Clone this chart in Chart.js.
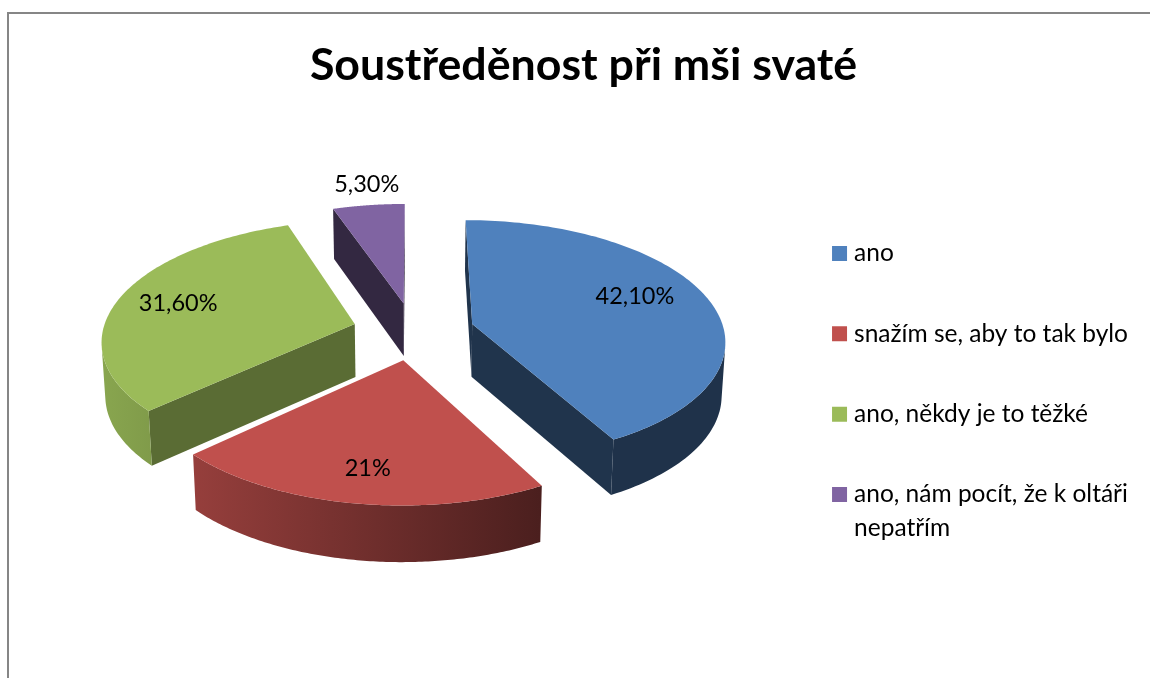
<!DOCTYPE html>
<html lang="cs">
<head>
    <meta charset="UTF-8">
    <title>Soustředěnost při mši svaté</title>
    <script src="https://cdn.jsdelivr.net/npm/chart.js"></script>
    <style>
        body { margin: 0; background: #fff; }
        #frame { position: absolute; left: 7px; top: 12px; right: 0; bottom: 0; border-top: 2px solid #868686; border-left: 2px solid #868686; }
        #myChart { position: absolute; left: 0; top: 0; }
    </style>
</head>
<body>
    <div id="frame"></div>
    <canvas id="myChart" width="1150" height="678"></canvas>

    <script>
        const titleText = 'Soustředěnost při mši svaté';
        const categories = ['ano', 'snažím se, aby to tak bylo', 'ano, někdy je to těžké', ['ano, nám pocít, že k oltáři', 'nepatřím']];
        const percentValues = [42.1, 21, 31.6, 5.3];
        const valueLabels = ['42,10%', '21%', '31,60%', '5,30%'];

        const sliceColors = ['#4F81BD', '#C0504D', '#9BBB59', '#8064A2'];
        const edgeShades = [0.4, 0.45, 0.58, 0.4];       // cut faces of each slice
        const labelRadius = [0.72, 0.78, 0.75, 1.24];    // label distance, share of the radius
        const labelTurn = [-5.5, -0.6, 0, 1.2];          // label angle correction, degrees
        const drawOrder = [3, 2, 0, 1];                  // back to front

        // the tilted view: where the pie sits and how it is foreshortened
        const view = { x: 413.5, y: 331, tilt: 0.471, persp: 0.127, depth: 53, shrink: 0.012 };
        const wallLight = { fromX: 100, toX: 540, from: 0.887, to: 0.39 };
        const pieRadius = 252;
        const explode = 61;

        function project(dx, dy, z) {
            const s = 1 / (1 - view.persp * dy / pieRadius);
            const shrink = 1 - view.shrink * z;
            return {
                x: view.x + dx * s * shrink,
                y: view.y + view.tilt * dy * s * shrink + z * view.depth * Math.pow(s, 0.6)
            };
        }

        function shade(hex, f) {
            const n = parseInt(hex.slice(1), 16);
            const c = [n >> 16, (n >> 8) & 255, n & 255].map(v => Math.round(v * f));
            return `rgb(${c[0]},${c[1]},${c[2]})`;
        }

        function fillPoly(ctx, pts, color) {
            ctx.beginPath();
            pts.forEach((p, i) => i ? ctx.lineTo(p.x, p.y) : ctx.moveTo(p.x, p.y));
            ctx.closePath();
            ctx.fillStyle = color;
            ctx.fill();
        }

        function sideQuad(a, b) {
            return [project(a.dx, a.dy, 0), project(b.dx, b.dy, 0), project(b.dx, b.dy, 1), project(a.dx, a.dy, 1)];
        }

        // negative area means the side faces the viewer
        function facesViewer(quad) {
            let area = 0;
            quad.forEach((p, i) => {
                const q = quad[(i + 1) % 4];
                area += p.x * q.y - q.x * p.y;
            });
            return area < 0;
        }

        function drawFace(ctx, a, b, color) {
            const quad = sideQuad(a, b);
            if (facesViewer(quad)) fillPoly(ctx, quad, color);
        }

        const pie3d = {
            id: 'pie3d',
            beforeDatasetsDraw(chart) {
                const ctx = chart.ctx;
                const arcs = chart.getDatasetMeta(0).data;

                ctx.save();
                drawOrder.forEach(i => {
                    const arc = arcs[i];
                    const color = arc.options.backgroundColor;
                    const mid = (arc.startAngle + arc.endAngle) / 2;
                    const apex = { dx: explode * Math.cos(mid), dy: explode * Math.sin(mid) };
                    const rim = [];
                    const steps = 120;
                    for (let k = 0; k <= steps; k++) {
                        const t = arc.startAngle + (arc.endAngle - arc.startAngle) * k / steps;
                        rim.push({ dx: apex.dx + arc.outerRadius * Math.cos(t), dy: apex.dy + arc.outerRadius * Math.sin(t) });
                    }

                    drawFace(ctx, apex, rim[0], shade(color, edgeShades[i]));
                    drawFace(ctx, rim[steps], apex, shade(color, edgeShades[i]));

                    // outer wall, only the run of the rim that faces the viewer
                    const front = rim.filter((p, k) => {
                        const before = k > 0 && facesViewer(sideQuad(rim[k - 1], p));
                        const after = k < steps && facesViewer(sideQuad(p, rim[k + 1]));
                        return before || after;
                    });
                    if (front.length > 1) {
                        const wall = ctx.createLinearGradient(wallLight.fromX, 0, wallLight.toX, 0);
                        wall.addColorStop(0, shade(color, wallLight.from));
                        wall.addColorStop(1, shade(color, wallLight.to));
                        const upper = front.map(p => project(p.dx, p.dy, 0));
                        const lower = front.map(p => project(p.dx, p.dy, 1)).reverse();
                        fillPoly(ctx, upper.concat(lower), wall);
                    }

                    fillPoly(ctx, [apex].concat(rim).map(p => project(p.dx, p.dy, 0)), color);
                });

                // value labels
                ctx.fillStyle = '#000';
                ctx.font = '23.5px Lato';
                ctx.textAlign = 'center';
                ctx.textBaseline = 'middle';
                arcs.forEach((arc, i) => {
                    const mid = (arc.startAngle + arc.endAngle) / 2;
                    const a = mid + labelTurn[i] * Math.PI / 180;
                    const d = arc.outerRadius * labelRadius[i];
                    const p = project(explode * Math.cos(mid) + d * Math.cos(a), explode * Math.sin(mid) + d * Math.sin(a), 0);
                    ctx.fillText(valueLabels[i], p.x, p.y);
                });
                ctx.restore();
                return false;
            }
        };

        new Chart(document.getElementById('myChart'), {
            type: 'pie',
            data: {
                labels: categories,
                datasets: [{
                    data: percentValues,
                    backgroundColor: sliceColors,
                    borderColor: sliceColors,
                    borderWidth: 10.5
                }]
            },
            options: {
                responsive: false,
                animation: false,
                radius: pieRadius,
                layout: { padding: { left: 29, right: 12, top: 0, bottom: 8 } },
                plugins: {
                    title: {
                        display: true,
                        text: titleText,
                        color: '#000',
                        font: { family: 'Lato', size: 44.7, weight: 'bold' },
                        padding: { top: 39, bottom: 29 }
                    },
                    legend: {
                        position: 'right',
                        align: 'center',
                        fullSize: false,
                        maxWidth: 376,
                        labels: {
                            color: '#000',
                            font: { family: 'Lato', size: 24.5, lineHeight: 1.39 },
                            boxWidth: 4.5,
                            boxHeight: 4.5,
                            padding: 55.8
                        }
                    },
                    tooltip: { enabled: false }
                }
            },
            plugins: [pie3d]
        });
    </script>
</body>
</html>
